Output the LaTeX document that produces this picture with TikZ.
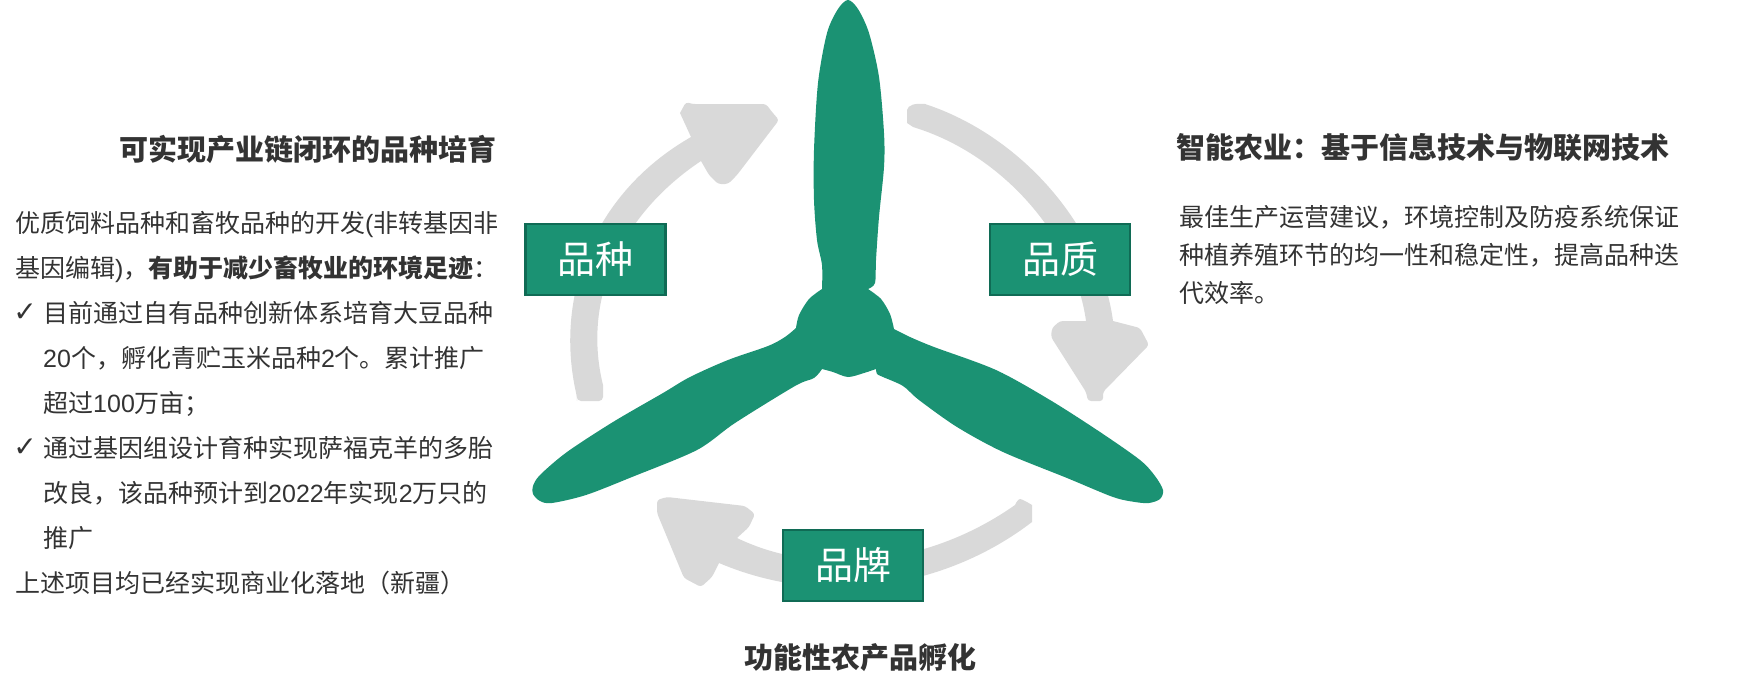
\documentclass[tikz,border=0pt]{standalone}
\usepackage{fontspec}
\setmainfont{Noto Sans CJK SC}
\newfontfamily\latinfont{Liberation Sans}
\newfontfamily\checkfont{DejaVu Sans}
\newcommand{\la}[1]{{\latinfont #1}}
\definecolor{bladegreen}{HTML}{1B9273}
\definecolor{boxedge}{HTML}{106B55}
\definecolor{ringgray}{HTML}{D9D9D9}
\definecolor{textgray}{HTML}{333333}
\tikzset{
  label box/.style={draw=boxedge,fill=bladegreen,line width=2.5pt,text=white,inner sep=0pt,
    minimum width=140pt,minimum height=71pt,font=\fontsize{38}{38}\selectfont},
  heading/.style={anchor=base west,inner sep=0pt,text=textgray,font=\fontsize{29}{29}\selectfont\bfseries},
  textline/.style={anchor=base west,inner sep=0pt,text=textgray,font=\fontsize{25}{25}\selectfont},
  tickmark/.style={anchor=center,inner sep=0pt,text=textgray,font=\fontsize{28}{28}\selectfont\checkfont}
}
\begin{document}
\begin{tikzpicture}[x=1pt,y=-1pt]
    \useasboundingbox (0,0) rectangle (1755,693);
    % grey ring, three arrows
    \fill[ringgray] (577,397) .. controls (555,300) and (590,195) .. (691,137)
        -- (680,113) [rounded corners=3pt] -- (686,102) -- (692,104) -- (766,104) -- (772,112) -- (779,120)
        -- (737,175) -- (728,184) -- (718,184) -- (709,175) [sharp corners] -- (701,161)
        .. controls (620,215) and (582,300) .. (603,385)
        [rounded corners=4pt] -- (603,401) -- (577,401) -- cycle;
    \fill[ringgray] (907,123) -- (907,110) .. controls (908,105) and (915,103) .. (925,104)
        .. controls (1020,135) and (1100,225) .. (1113,321)
        [rounded corners=3pt] -- (1140,328) -- (1149,345) -- (1103,392) -- (1103,401) -- (1088,401) -- (1086,392)
        -- (1051,337) -- (1052,328) -- (1060,321) [sharp corners] -- (1086,321)
        .. controls (1075,240) and (1005,155) .. (913,127) -- cycle;
    \fill[ringgray] plot[smooth] coordinates {(1015,505) (1020,499) (1032,505)} -- (1032,522)
        .. controls (950,585) and (830,610) .. (719,563)
        [rounded corners=3pt] -- (712,577) -- (701,587) -- (684,578) -- (657,513) -- (657,500) -- (667,497)
        -- (745,506) -- (755,514) -- (749,527) [sharp corners] -- (737,538)
        .. controls (820,578) and (930,565) .. (1015,505) -- cycle;
    % three blade rotor
    \fill[bladegreen] plot[smooth] coordinates {(822,289) (822,265) (817,240) (814,200) (814,150) (818,83) (827,33) (838,9) (848,0)
            (858,9) (869,33) (879,77) (884,133) (884,167) (879,217) (876,260) (875,283) (868,289)}
        -- plot[smooth] coordinates {(868,289) (881,299) (890,314) (894,329)}
        -- plot[smooth] coordinates {(894,329) (910,337) (934,347) (996,370) (1050,400) (1100,432) (1140,460) (1155,476) (1163,490)
            (1160,499) (1149,503) (1135,502) (1113,497) (1067,478) (1003,452) (957,427) (919,400) (903,386) (883,377) (877,374) (876,369)}
        -- plot[smooth] coordinates {(876,369) (864,373) (848,377) (833,372) (822,369)}
        -- plot[smooth] coordinates {(822,369) (814,378) (795,386) (735,423) (697,450) (632,477) (586,495) (552,503) (540,501)
            (533,494) (533,486) (540,475) (567,452) (613,422) (663,393) (690,377) (728,360) (768,346) (785,337) (796,328)}
        -- plot[smooth] coordinates {(796,328) (799,315) (809,299) (822,289)} -- cycle;
    % labels on the ring
    \node[label box] (boxbreed) at (595.5,259.5) {品种};
    \node[label box] (boxquality) at (1060,259.5) {品质};
    \node[label box] (boxbrand) at (853,565.5) {品牌};
    % left text
    \node[heading] (headbreed) at (119,160) {可实现产业链闭环的品种培育};
    \node[textline] (leftone) at (15,232) {优质饲料品种和畜牧品种的开发\la{(}非转基因非};
    \node[textline] (lefttwo) at (15,277) {基因编辑\la{)}，\textbf{有助于减少畜牧业的环境足迹}：};
    \node[tickmark] (tickone) at (25,313) {✓};
    \node[textline] (leftthree) at (43,322) {目前通过自有品种创新体系培育大豆品种};
    \node[textline] (leftfour) at (43,367) {\la{20}个，孵化青贮玉米品种\la{2}个。累计推广};
    \node[textline] (leftfive) at (43,412) {超过\la{100}万亩；};
    \node[tickmark] (ticktwo) at (25,448) {✓};
    \node[textline] (leftsix) at (43,457) {通过基因组设计育种实现萨福克羊的多胎};
    \node[textline] (leftseven) at (43,502) {改良，该品种预计到\la{2022}年实现\la{2}万只的};
    \node[textline] (lefteight) at (43,547) {推广};
    \node[textline] (leftnine) at (15,592) {上述项目均已经实现商业化落地（新疆）};
    % right text
    \node[heading] (headquality) at (1176,158) {智能农业：基于信息技术与物联网技术};
    \node[textline] (rightone) at (1179,226) {最佳生产运营建议，环境控制及防疫系统保证};
    \node[textline] (righttwo) at (1179,264) {种植养殖环节的均一性和稳定性，提高品种迭};
    \node[textline] (rightthree) at (1179,302) {代效率。};
    % bottom text
    \node[heading] (headbrand) at (744,668) {功能性农产品孵化};
\end{tikzpicture}
\end{document}
